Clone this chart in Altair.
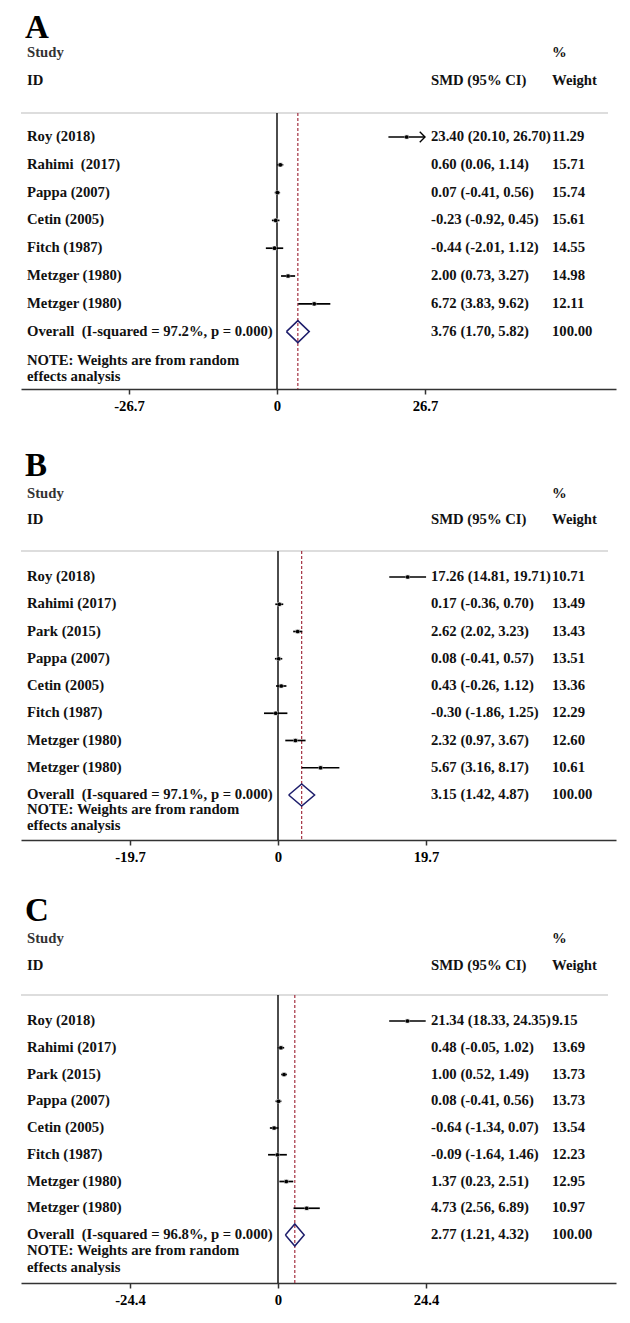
import altair as alt
import pandas as pd

# ---------------- data ----------------
studies_A = ["Roy (2018)", "Rahimi\u00a0 (2017)", "Pappa (2007)", "Cetin (2005)",
             "Fitch (1987)", "Metzger (1980)", "Metzger (1980)"]
smd_A = [23.40, 0.60, 0.07, -0.23, -0.44, 2.00, 6.72]
lo_A = [20.10, 0.06, -0.41, -0.92, -2.01, 0.73, 3.83]
hi_A = [26.70, 1.14, 0.56, 0.45, 1.12, 3.27, 9.62]
w_A = [11.29, 15.71, 15.74, 15.61, 14.55, 14.98, 12.11]
overall_A = [3.76, 1.70, 5.82]
i2_A = "97.2"
ticks_A = 26.7

studies_B = ["Roy (2018)", "Rahimi (2017)", "Park (2015)", "Pappa (2007)",
             "Cetin (2005)", "Fitch (1987)", "Metzger (1980)", "Metzger (1980)"]
smd_B = [17.26, 0.17, 2.62, 0.08, 0.43, -0.30, 2.32, 5.67]
lo_B = [14.81, -0.36, 2.02, -0.41, -0.26, -1.86, 0.97, 3.16]
hi_B = [19.71, 0.70, 3.23, 0.57, 1.12, 1.25, 3.67, 8.17]
w_B = [10.71, 13.49, 13.43, 13.51, 13.36, 12.29, 12.60, 10.61]
overall_B = [3.15, 1.42, 4.87]
i2_B = "97.1"
ticks_B = 19.7

studies_C = ["Roy (2018)", "Rahimi (2017)", "Park (2015)", "Pappa (2007)",
             "Cetin (2005)", "Fitch (1987)", "Metzger (1980)", "Metzger (1980)"]
smd_C = [21.34, 0.48, 1.00, 0.08, -0.64, -0.09, 1.37, 4.73]
lo_C = [18.33, -0.05, 0.52, -0.41, -1.34, -1.64, 0.23, 2.56]
hi_C = [24.35, 1.02, 1.49, 0.56, 0.07, 1.46, 2.51, 6.89]
w_C = [9.15, 13.69, 13.73, 13.73, 13.54, 12.23, 12.95, 10.97]
overall_C = [2.77, 1.21, 4.32]
i2_C = "96.8"
ticks_C = 24.4

p_value = "0.000"
note_AB = ["NOTE: Weights are from random", "effects analysis"]
note_C = ["NOTE: Weights are from random", "\u00a0effects analysis"]

FONT = "Liberation Serif"
FS = 14.7
PLOT_W = 595


def txt(s, x, y, size=FS, color="#111", baseline="middle"):
    return alt.Chart(pd.DataFrame({"t": [s]})).mark_text(
        font=FONT, fontWeight="bold", fontSize=size, color=color,
        align="left", baseline=baseline
    ).encode(text="t:N", x=alt.value(x), y=alt.value(y))


def panel(letter, studies, smd, lo, hi, w, overall, i2, T, arrow_rows, notes, lay):
    H = lay["H"]
    sp = lay["sp"]
    first = lay["first"]
    grey = lay["grey"]
    zero_px = lay["zero"]
    ppu = 148.0 / T
    xmin = -zero_px / ppu
    xmax = xmin + PLOT_W / ppu
    ylo = -first / sp
    yhi = (H - first) / sp

    def X(f):
        return alt.X(f, type="quantitative",
                     scale=alt.Scale(domain=[xmin, xmax], nice=False, zero=False),
                     axis=alt.Axis(values=[-T, 0, T], labelExpr="'' + datum.value",
                                   grid=False, title=None, domainColor="#333",
                                   domainWidth=1.5, tickColor="#333", tickWidth=1.5,
                                   tickSize=5, labelFont=FONT, labelFontWeight="bold",
                                   labelFontSize=FS, labelColor="#000", labelPadding=4,
                                   labelFlush=False, labelOverlap=False))

    def Y(f):
        return alt.Y(f, type="quantitative",
                     scale=alt.Scale(domain=[ylo, yhi], reverse=True, nice=False, zero=False),
                     axis=None)

    n = len(studies)
    df = pd.DataFrame({
        "row": list(range(n)),
        "label": studies,
        "smd": smd, "lo": lo, "hi": hi,
        "ci": [f"{a:.2f} ({b:.2f}, {c:.2f})" for a, b, c in zip(smd, lo, hi)],
        "wt": [f"{v:.2f}" for v in w],
    })
    ov_est, ov_lo, ov_hi = overall
    df_all = pd.concat([df, pd.DataFrame({
        "row": [n], "label": [f"Overall\u00a0 (I-squared = {i2}%, p = {p_value})"],
        "smd": [ov_est], "lo": [ov_lo], "hi": [ov_hi],
        "ci": [f"{ov_est:.2f} ({ov_lo:.2f}, {ov_hi:.2f})"], "wt": ["100.00"]})],
        ignore_index=True)

    hh = 11.0 / sp
    dia = pd.DataFrame({
        "x": [ov_lo, ov_est, ov_hi, ov_est, ov_lo],
        "y": [n, n - hh, n, n + hh, n],
        "o": [0, 1, 2, 3, 4],
    })

    one = pd.DataFrame({"a": [0]})
    greyline = alt.Chart(one).mark_rule(color="#d2d2d2", strokeWidth=1.5).encode(
        x=alt.value(0), x2=alt.value(587), y=alt.value(grey))
    zero = alt.Chart(pd.DataFrame({"x": [0.0]})).mark_rule(
        color="#000", strokeWidth=1.4).encode(x=X("x"), y=alt.value(grey), y2=alt.value(H))
    red = alt.Chart(pd.DataFrame({"x": [ov_est]})).mark_rule(
        color="#a33040", strokeWidth=1.2, strokeDash=[3, 2]).encode(
        x=X("x"), y=alt.value(grey), y2=alt.value(H))
    ci = alt.Chart(df).mark_rule(color="#000", strokeWidth=1.7).encode(
        x=X("lo"), x2=alt.X2("hi"), y=Y("row"))
    box = alt.Chart(df).mark_square(color="#b5b5b5", size=18, opacity=1).encode(
        x=X("smd"), y=Y("row"))
    dot = alt.Chart(df).mark_point(filled=True, shape="circle", size=14,
                                   color="#000", opacity=1).encode(x=X("smd"), y=Y("row"))
    layers = [greyline, zero, red, ci, box, dot]
    if arrow_rows:
        arr = alt.Chart(df.iloc[arrow_rows]).mark_point(
            shape="M-1,-1L0,0L-1,1", filled=False, size=110, strokeWidth=1.4,
            color="#000", opacity=1).encode(x=X("hi"), y=Y("row"))
        layers.append(arr)
    diamond = alt.Chart(dia).mark_line(color="#1d1d6b", strokeWidth=1.5).encode(
        x=X("x"), y=Y("y"), order="o:Q")
    layers.append(diamond)

    tstyle = dict(font=FONT, fontWeight="bold", fontSize=FS, color="#111",
                  align="left", baseline="middle")
    lab = alt.Chart(df_all).mark_text(**tstyle).encode(
        text="label:N", x=alt.value(6), y=Y("row"))
    cit = alt.Chart(df_all).mark_text(**tstyle).encode(
        text="ci:N", x=alt.value(410), y=Y("row"))
    wtt = alt.Chart(df_all).mark_text(**tstyle).encode(
        text="wt:N", x=alt.value(531), y=Y("row"))
    layers += [lab, cit, wtt]

    layers += [
        txt(letter, 4, lay["letter"], size=33, color="#000", baseline="alphabetic"),
        txt("Study", 6, lay["study"], color="#333"),
        txt("ID", 6, lay["id"], color="#111"),
        txt("%", 531, lay["study"], color="#111"),
        txt("SMD (95% CI)", 410, lay["id"], color="#111"),
        txt("Weight", 531, lay["id"], color="#111"),
        txt(notes[0], 6, lay["note1"]),
        txt(notes[1], 6, lay["note2"]),
    ]
    return alt.layer(*layers).properties(width=PLOT_W, height=H)


lay_A = dict(H=377, sp=27.8, first=125, grey=101, zero=256, letter=26,
             study=41, id=69, note1=349, note2=365)
lay_B = dict(H=396, sp=27.25, first=133, grey=107, zero=257, letter=32,
             study=50, id=76, note1=366, note2=382)
lay_C = dict(H=387, sp=26.75, first=125, grey=99, zero=257, letter=25,
             study=43, id=70, note1=355, note2=372)

pA = panel("A", studies_A, smd_A, lo_A, hi_A, w_A, overall_A, i2_A, ticks_A, [0], note_AB, lay_A)
pB = panel("B", studies_B, smd_B, lo_B, hi_B, w_B, overall_B, i2_B, ticks_B, [], note_AB, lay_B)
pC = panel("C", studies_C, smd_C, lo_C, hi_C, w_C, overall_C, i2_C, ticks_C, [], note_C, lay_C)

chart = alt.vconcat(pA, pB, pC, spacing=31).properties(
    padding={"left": 12, "top": 4, "right": 5, "bottom": 5}
).configure_view(stroke=None)

chart.save("out.html", embed_options={"renderer": "svg", "actions": False})
